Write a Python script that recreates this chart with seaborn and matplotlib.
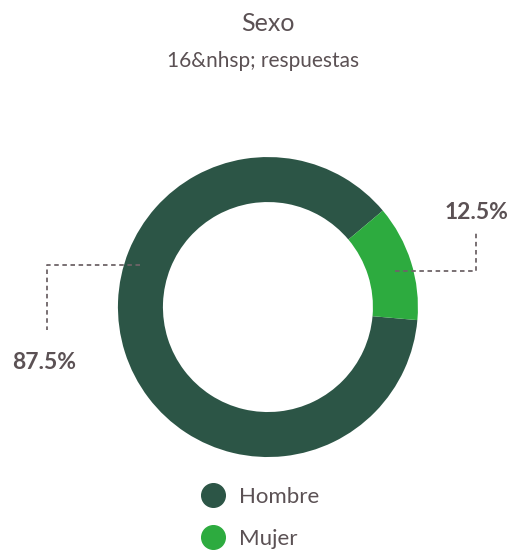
import matplotlib
matplotlib.use('Agg')
import matplotlib.pyplot as plt
from matplotlib.lines import Line2D
import seaborn as sns

# 数据
categories = ['Hombre', 'Mujer']
counts = [14, 2]
colors = ['#2c5546', '#2dab3f']
title = 'Sexo'
subtitle = '16&nhsp; respuestas'

sns.set_theme(style='white')
plt.rcParams['font.family'] = ['Lato', 'DejaVu Sans']
text_color = '#5b5154'

fig = plt.figure(figsize=(5.15, 5.5), dpi=100)
fig.text(0.52, 0.958, title, ha='center', va='center', fontsize=18, color=text_color)
fig.text(0.51, 0.889, subtitle, ha='center', va='center', fontsize=15, color=text_color)

# 环形图
ax = fig.add_axes([0.229, 0.169, 0.5825, 0.5455])
wedges, _ = ax.pie(counts, colors=colors, startangle=-5, counterclock=False,
                   radius=1, wedgeprops=dict(width=0.3, linewidth=0))
ax.set_xlim(-1, 1)
ax.set_ylim(-1, 1)
ax.set_aspect('equal')
ax.axis('off')

total = sum(counts)
pcts = [f'{c / total * 100:.1f}%' for c in counts]

# 引线（虚线）和百分比标签
dash = dict(color='#6e6468', lw=1.3, linestyle=(0, (2.5, 2)), clip_on=False)
# Hombre
ax.plot([-0.85, -1.47, -1.47], [0.28, 0.28, -0.15], **dash)
ax.text(-1.49, -0.37, pcts[0], ha='center', va='center', fontsize=16.5,
        fontweight='bold', color=text_color)
# Mujer
ax.plot([0.85, 1.39, 1.39], [0.24, 0.24, 0.51], **dash)
ax.text(1.39, 0.63, pcts[1], ha='center', va='center', fontsize=16.5,
        fontweight='bold', color=text_color)

# 图例
handles = [Line2D([0], [0], marker='o', linestyle='', markersize=17,
                  markerfacecolor=c, markeredgecolor=c) for c in colors]
leg = fig.legend(handles, categories, loc='upper left', bbox_to_anchor=(0.367, 0.135),
                 frameon=False, fontsize=16, labelspacing=1.0, handletextpad=0.55,
                 handlelength=1.2, borderpad=0)
for t in leg.get_texts():
    t.set_color(text_color)

plt.savefig('out.png', dpi=100)
